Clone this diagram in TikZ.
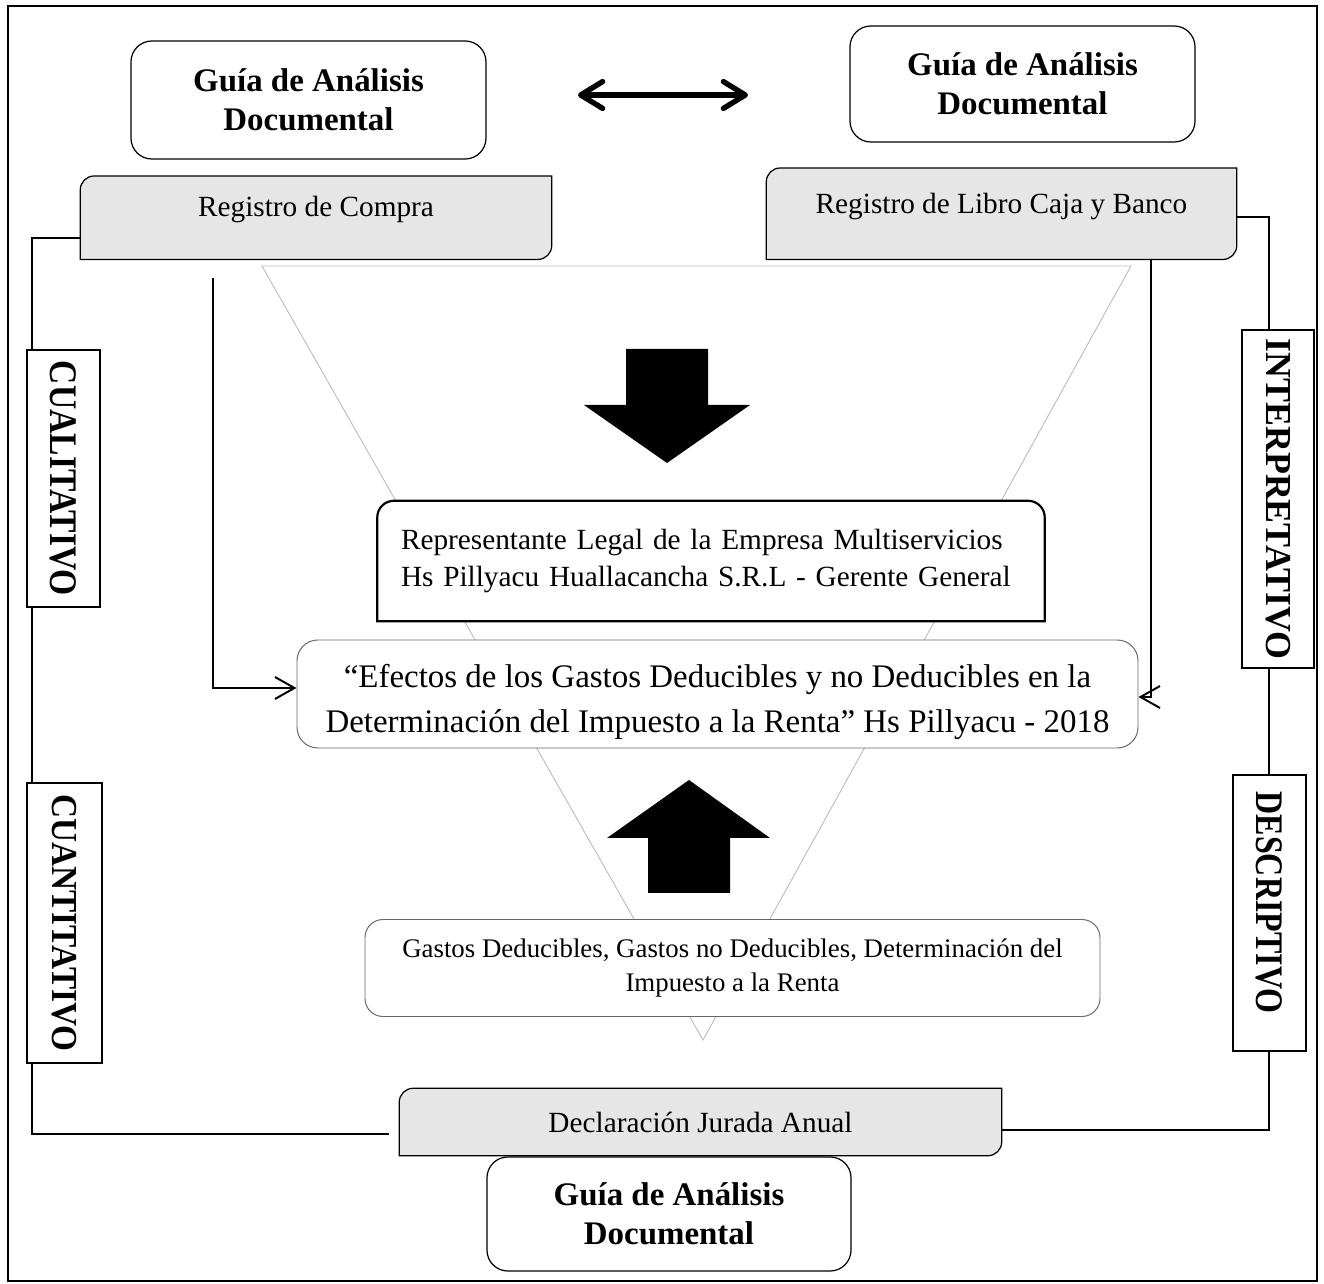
\documentclass[tikz,border=0pt]{standalone}
\usepackage{fontspec}
\setmainfont{Liberation Serif}
\usetikzlibrary{positioning,arrows.meta,backgrounds}

\definecolor{gris}{RGB}{230,230,230}
\def\pu{0.0144cm}

\begin{document}
\begin{tikzpicture}[x=\pu ,y=-\pu ,semithick,
guia/.style ={ rectangle ,rounded corners =0.3cm ,draw ,fill =white ,line width =0.5pt,
align =center ,font =\fontsize{13.5}{16}\selectfont\bfseries},
registro/.style ={ rectangle ,inner sep =0pt ,font =\fontsize{12}{14}\selectfont},
cuadro/.style ={ rectangle ,rounded corners =0.3cm ,draw =black!60 ,fill =white ,thin ,align =center},
metodo/.style ={ rectangle ,draw ,fill =white ,line width =0.8pt ,rotate =-90 ,inner sep =0pt,
font =\fontsize{16}{18}\selectfont\bfseries},
enlace/.style ={ line width =0.8pt},
punta/.style ={ -{Straight Barb[length=8pt,width=9pt]}}
]
\useasboundingbox (0,0) rectangle (1324,1284);
\draw[line width=0.8pt] (8,6) rectangle (1317,1281);

% guias
\node[guia ,minimum width =355*\pu ,minimum height =118*\pu] (GuiaIzq) at (308.5,100) {Guía de Análisis\\Documental};
\node[guia ,minimum width =345*\pu ,minimum height =116*\pu] (GuiaDer) at (1022.5,84) {Guía de Análisis\\Documental};
\node[guia ,minimum width =364*\pu ,minimum height =114*\pu] (GuiaAbajo) at (669,1214) {Guía de Análisis\\Documental};
\coordinate (FlechaIzq) at (578,95);
\coordinate (FlechaDer) at (748,95);
\draw[line width=2.2pt ,{Straight Barb[length=9pt,width=11pt,round]}-{Straight Barb[length=9pt,width=11pt,round]}] (FlechaIzq) -- (FlechaDer);

% registros
\node[registro ,anchor =north ,minimum width =470*\pu ,text height =16.4pt ,text depth =17.2pt] (RegCompra) at (316,176) {Registro de Compra};
\node[registro ,anchor =north ,minimum width =469*\pu ,text height =18.3pt ,text depth =18.6pt] (RegLibro) at (1001.5,168) {Registro de Libro Caja y Banco};
\node[registro ,minimum width =601*\pu ,minimum height =66*\pu] (Declaracion) at (700.5,1122) {Declaración Jurada Anual};

% centro
\node[registro ,minimum width =666*\pu ,minimum height =119*\pu ,text width =620*\pu ,inner xsep =23*\pu ,
align =left ,font =\fontsize{12}{15.2}\selectfont] (Representante) at (711,561)
{Representante Legal de la Empresa Multiservicios\\Hs Pillyacu Huallacancha S.R.L - Gerente General};
\node[cuadro ,inner ysep =0pt ,text height =34.8pt ,text depth =3pt ,minimum width =841*\pu ,minimum height =108*\pu ,
font =\fontsize{13.5}{18.4}\selectfont] (Efectos) at (717.5,694)
{“Efectos de los Gastos Deducibles y no Deducibles en la\\Determinación del Impuesto a la Renta” Hs Pillyacu - 2018};
\node[cuadro ,rounded corners =0.26cm ,minimum width =735*\pu ,minimum height =97*\pu ,font =\fontsize{11}{14}\selectfont] (Gastos) at (732.5,968)
{Gastos Deducibles, Gastos no Deducibles, Determinación del\\Impuesto a la Renta};

\fill (626,349) -- (708,349) -- (708,405) -- (750,405) -- (667,463) -- (584,405) -- (626,405) -- cycle;
\fill (648,893) -- (730,893) -- (730,838) -- (770,838) -- (689,780) -- (607,838) -- (648,838) -- cycle;

% metodos
\node[metodo ,minimum width =257*\pu ,minimum height =73*\pu] (Cualitativo) at (63.5,478.5) {\scalebox{0.86}[1]{CUALITATIVO}};
\node[metodo ,minimum width =280*\pu ,minimum height =75*\pu ,font =\fontsize{15}{17}\selectfont\bfseries] (Cuantitativo) at (64.5,923) {\scalebox{0.91}[1]{CUANTITATIVO}};
\node[metodo ,minimum width =338*\pu ,minimum height =72*\pu ,font =\fontsize{15}{17}\selectfont\bfseries] (Interpretativo) at (1278,499) {\scalebox{0.98}[1]{INTERPRETATIVO}};
\node[metodo ,minimum width =276*\pu ,minimum height =73*\pu] (Descriptivo) at (1269.5,913) {\scalebox{0.82}[1]{DESCRIPTIVO}\hspace*{0.3cm}};

\coordinate (CompraBaja) at (213,278);

\begin{scope}[on background layer]
\draw[black!25] (262,266) -- (1131,266) -- (703,1040) -- cycle;
\foreach \caja in {RegCompra,RegLibro,Declaracion}
  \filldraw[fill=gris ,line width=0.5pt] (\caja.south west) -- ([yshift=-0.2cm]\caja.north west)
    arc[start angle=180,end angle=90,radius=0.2cm] -- (\caja.north east)
    -- ([yshift=0.2cm]\caja.south east) arc[start angle=0,end angle=-90,radius=0.2cm] -- cycle;
\filldraw[fill=white ,line width=0.9pt] (Representante.south west) -- ([yshift=-0.24cm]Representante.north west)
  arc[start angle=180,end angle=90,radius=0.24cm] -- ([xshift=-0.24cm]Representante.north east)
  arc[start angle=90,end angle=0,radius=0.24cm] -- (Representante.south east) -- cycle;

\draw[enlace] ([yshift=-20*\pu]RegCompra.west) -- ++(-48,0) |- ([xshift=-10*\pu ,yshift=-12*\pu]Declaracion.west);
\draw[enlace] ([yshift=-3*\pu]RegLibro.east) -- ++(32,0) |- ([yshift=-8*\pu]Declaracion.east);
\draw[enlace ,punta] (CompraBaja) |- ([yshift=6*\pu]Efectos.west);
\draw[enlace ,punta] ([xshift=-74*\pu]RegLibro.south east) -- ++(-12,0) |- ([yshift=-3*\pu]Efectos.east);
\end{scope}
\end{tikzpicture}
\end{document}
